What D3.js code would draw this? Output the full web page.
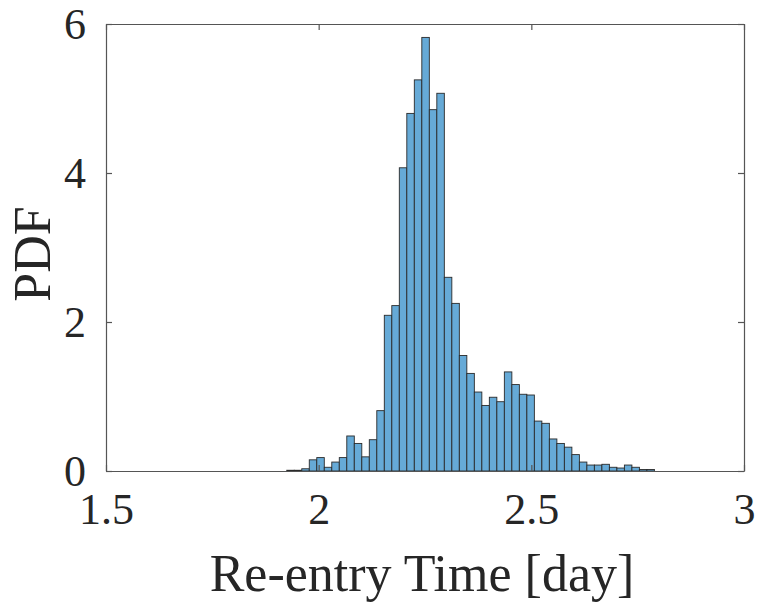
<!DOCTYPE html>
<html>
<head>
<meta charset="utf-8">
<script src="https://cdn.jsdelivr.net/npm/d3@7"></script>
<style>
  body { margin: 0; background: #fff; }
  text { font-family: "Liberation Serif", "DejaVu Serif", serif; fill: #262626; }
</style>
</head>
<body>
<div id="chart"></div>
<script>
// histogram bins
const binStart = 1.925;
const binWidth = 0.01764;
const pdfValues = [
  0.01, 0.01, 0.03, 0.15, 0.18, 0.05, 0.12, 0.18, 0.47, 0.37,
  0.19, 0.42, 0.81, 2.09, 2.22, 4.07, 4.80, 5.25, 5.82, 4.85,
  5.07, 2.60, 2.25, 1.55, 1.31, 1.06, 0.88, 0.99, 0.93, 1.33,
  1.16, 1.03, 1.02, 0.67, 0.64, 0.43, 0.37, 0.32, 0.22, 0.12,
  0.08, 0.08, 0.09, 0.05, 0.04, 0.08, 0.05, 0.02, 0.02
];
const xTicks = [1.5, 2, 2.5, 3];
const yTicks = [0, 2, 4, 6];
const xLabel = 'Re-entry Time [day]';
const yLabel = 'PDF';

const width = 759, height = 602;
const margin = { top: 24, right: 15, bottom: 131, left: 106 };
const innerW = width - margin.left - margin.right;
const innerH = height - margin.top - margin.bottom;

const bins = pdfValues.map((v, i) => ({
  x0: binStart + i * binWidth,
  x1: binStart + (i + 1) * binWidth,
  value: v
}));

const x = d3.scaleLinear().domain([1.5, 3]).range([0, innerW]);
const y = d3.scaleLinear().domain([0, 6]).range([innerH, 0]);

const svg = d3.select('#chart')
  .append('svg')
  .attr('width', width)
  .attr('height', height);

const g = svg.append('g')
  .attr('transform', `translate(${margin.left}, ${margin.top})`);

// bars
g.selectAll('rect.bar')
  .data(bins)
  .enter()
  .append('rect')
  .attr('class', 'bar')
  .attr('x', (d) => x(d.x0))
  .attr('width', (d) => x(d.x1) - x(d.x0))
  .attr('y', (d) => y(d.value))
  .attr('height', (d) => y(0) - y(d.value))
  .style('fill', '#66aad7')
  .style('stroke', '#2a2a2a')
  .style('stroke-width', 0.9);

// axes, ticks pointing inward like matlab
const tickLen = 6;
const axisColor = '#555';

const xBottom = g.append('g')
  .attr('transform', `translate(0, ${innerH})`)
  .call(d3.axisBottom(x).tickValues(xTicks).tickSizeInner(-tickLen).tickSizeOuter(0).tickPadding(22).tickFormat(d3.format('')));
const xTop = g.append('g')
  .call(d3.axisTop(x).tickValues(xTicks).tickSizeInner(-tickLen).tickSizeOuter(0).tickFormat(''));
const yLeft = g.append('g')
  .call(d3.axisLeft(y).tickValues(yTicks).tickSizeInner(-tickLen).tickSizeOuter(0).tickPadding(20).tickFormat(d3.format('')));
const yRight = g.append('g')
  .attr('transform', `translate(${innerW}, 0)`)
  .call(d3.axisRight(y).tickValues(yTicks).tickSizeInner(-tickLen).tickSizeOuter(0).tickFormat(''));

[xBottom, xTop, yLeft, yRight].forEach((a) => {
  a.select('.domain').style('stroke', axisColor).style('stroke-width', 1.2);
  a.selectAll('.tick line').style('stroke', axisColor).style('stroke-width', 1.2);
  a.selectAll('.tick text')
    .style('font-family', '"Liberation Serif", serif')
    .style('font-size', '44px')
    .style('fill', '#262626');
});

// axis labels
svg.append('text')
  .attr('x', margin.left + innerW / 2 - 3)
  .attr('y', 591)
  .attr('text-anchor', 'middle')
  .style('font-size', '52px')
  .text(xLabel);

svg.append('text')
  .attr('transform', `translate(50, 254) rotate(-90)`)
  .attr('text-anchor', 'middle')
  .style('font-size', '52px')
  .text(yLabel);
</script>
</body>
</html>
